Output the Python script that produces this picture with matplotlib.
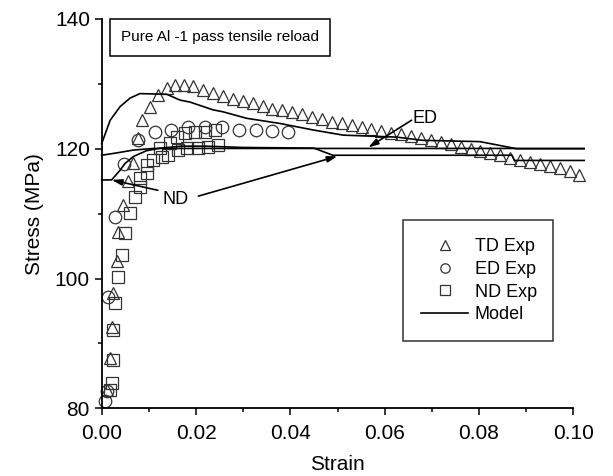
import matplotlib.pyplot as plt

plt.rcParams['font.family'] = ['Liberation Sans', 'DejaVu Sans']

td_strain = [0.0011, 0.0018, 0.0021, 0.0025, 0.0032, 0.0035, 0.0046, 0.0056, 0.0067,
             0.0078, 0.0086, 0.0102, 0.0120, 0.0138, 0.0155, 0.0175, 0.0194, 0.0215,
             0.0236, 0.0257, 0.0278, 0.0299, 0.0320, 0.0341, 0.0362, 0.0383, 0.0404,
             0.0425, 0.0446, 0.0467, 0.0488, 0.0509, 0.0530, 0.0551, 0.0572, 0.0593,
             0.0614, 0.0635, 0.0656, 0.0677, 0.0698, 0.0719, 0.0740, 0.0761, 0.0782,
             0.0803, 0.0824, 0.0845, 0.0866, 0.0887, 0.0908, 0.0929, 0.0950, 0.0971,
             0.0992, 0.1013]
td_stress = [82.8, 87.7, 92.6, 97.7, 102.7, 107.1, 111.3, 115.0, 117.8,
             121.6, 124.5, 126.4, 128.3, 129.4, 129.8, 129.8, 129.7, 129.0,
             128.6, 128.1, 127.7, 127.3, 127.0, 126.6, 126.2, 125.9, 125.6,
             125.3, 124.9, 124.6, 124.2, 124.0, 123.6, 123.3, 123.0, 122.8,
             122.5, 122.2, 121.9, 121.6, 121.3, 121.0, 120.7, 120.3, 120.0,
             119.7, 119.3, 119.0, 118.6, 118.3, 118.0, 117.7, 117.3, 117.0,
             116.6, 116.0]

ed_strain = [0.0008, 0.0011, 0.0014, 0.0028, 0.0047, 0.0078, 0.0113, 0.0146,
             0.0183, 0.0220, 0.0256, 0.0292, 0.0327, 0.0362, 0.0396]
ed_stress = [81.2, 82.6, 97.2, 109.5, 117.6, 121.3, 122.6, 122.9,
             123.3, 123.4, 123.3, 122.9, 122.9, 122.7, 122.6]

nd_strain = [0.0018, 0.0021, 0.0025, 0.0025, 0.0028, 0.0035, 0.0042, 0.0049, 0.0060,
             0.0071, 0.0081, 0.0095, 0.0109, 0.0127, 0.0141, 0.0162, 0.0180, 0.0204,
             0.0225, 0.0247,
             0.0081, 0.0095, 0.0124, 0.0145, 0.0159, 0.0177, 0.0198, 0.0219, 0.0240]
nd_stress = [82.8, 83.9, 87.4, 92.0, 96.2, 100.2, 103.6, 107.0, 110.1,
             112.5, 114.1, 116.3, 118.3, 118.8, 119.0, 119.8, 120.1, 120.1,
             120.3, 120.6,
             115.5, 117.5, 120.1, 120.9, 121.8, 122.4, 122.6, 122.6, 122.9]

# model curves
td_model_strain = [0.0, 0.0018, 0.0039, 0.0060, 0.0081, 0.0138, 0.0166, 0.0187, 0.0236,
                   0.0257, 0.0307, 0.0378, 0.0448, 0.0512, 0.0625, 0.0680, 0.0802,
                   0.0866, 0.0880, 0.1023]
td_model_stress = [120.8, 124.4, 126.5, 127.8, 128.5, 128.4, 127.5, 127.2, 126.0,
                   125.7, 124.7, 123.9, 122.9, 122.1, 121.8, 121.3, 121.1,
                   120.2, 120.0, 120.0]

ed_model_strain = [0.0, 0.0035, 0.0067, 0.0110, 0.1023]
ed_model_stress = [119.0, 119.4, 119.8, 120.05, 120.05]

nd_model_strain = [0.0, 0.0021, 0.0039, 0.0049, 0.0067, 0.0095, 0.0124, 0.0170, 0.0220,
                   0.0300, 0.0450, 0.0490, 0.0870, 0.0875, 0.1023]
nd_model_stress = [115.2, 115.2, 116.7, 117.7, 118.8, 119.7, 120.1, 120.4, 120.4,
                   120.2, 120.1, 119.0, 119.0, 118.2, 118.2]

fig = plt.figure(figsize=(6.13, 4.76), dpi=100)
ax = fig.add_axes([0.1659, 0.1422, 0.7694, 0.8179])

mk = dict(linestyle='none', markerfacecolor='none', markeredgecolor='#333333',
          markeredgewidth=0.9, markersize=9, clip_on=False)
ax.plot(td_strain, td_stress, marker='^', label='TD Exp', **mk)
ax.plot(ed_strain, ed_stress, marker='o', label='ED Exp', **mk)
ax.plot(nd_strain, nd_stress, marker='s', label='ND Exp', **mk)

ln = dict(color='black', linewidth=1.2, clip_on=False)
ax.plot(td_model_strain, td_model_stress, label='Model', **ln)
ax.plot(ed_model_strain, ed_model_stress, **ln)
ax.plot(nd_model_strain, nd_model_stress, **ln)

ax.set_xlim(0, 0.10)
ax.set_ylim(80, 140)
ax.set_xticks([0.00, 0.02, 0.04, 0.06, 0.08, 0.10])
ax.set_xticks([0.01, 0.03, 0.05, 0.07, 0.09], minor=True)
ax.set_yticks([80, 100, 120, 140])
ax.set_yticks([90, 110, 130], minor=True)
ax.xaxis.set_major_formatter(plt.FormatStrFormatter('%.2f'))

for side in ['top', 'right']:
    ax.spines[side].set_visible(False)
for side in ['left', 'bottom']:
    ax.spines[side].set_linewidth(1.3)
ax.tick_params(which='major', direction='out', length=5, width=1.1, labelsize=15)
ax.tick_params(axis='x', which='major', pad=6)
ax.tick_params(which='minor', direction='out', length=3, width=1.1)

ax.set_xlabel('Strain', fontsize=15, labelpad=9)
ax.set_ylabel('Stress (MPa)', fontsize=15, labelpad=8)

ax.text(0.2509, 0.9525, 'Pure Al -1 pass tensile reload', transform=ax.transAxes,
        ha='center', va='center', fontsize=11,
        bbox=dict(boxstyle='square,pad=0.75', facecolor='white', edgecolor='black',
                  linewidth=1.1))

leg = ax.legend(loc='upper left', bbox_to_anchor=(0.6395, 0.1772, 0.3181, 0.3065),
                mode='expand', borderaxespad=0, fontsize=13, frameon=True,
                fancybox=False, edgecolor='black', handlelength=2.6,
                handletextpad=0.35, labelspacing=0.32, borderpad=1.0,
                markerscale=0.75)
leg.get_frame().set_linewidth(1.1)

arrow = dict(arrowstyle='-|>,head_length=0.6,head_width=0.18', color='black',
             linewidth=1.2, shrinkA=0, shrinkB=0)
ax.annotate('', xy=(0.0021, 115.2), xytext=(0.0119, 113.6), arrowprops=arrow)
ax.annotate('', xy=(0.0500, 118.85), xytext=(0.0205, 112.7), arrowprops=arrow)
ax.text(0.0156, 112.2, 'ND', fontsize=13, ha='center', va='center')
ax.annotate('', xy=(0.0565, 120.2), xytext=(0.0657, 124.4), arrowprops=arrow)
ax.text(0.0659, 124.7, 'ED', fontsize=13, ha='left', va='center')

fig.savefig('out.png', dpi=100)
